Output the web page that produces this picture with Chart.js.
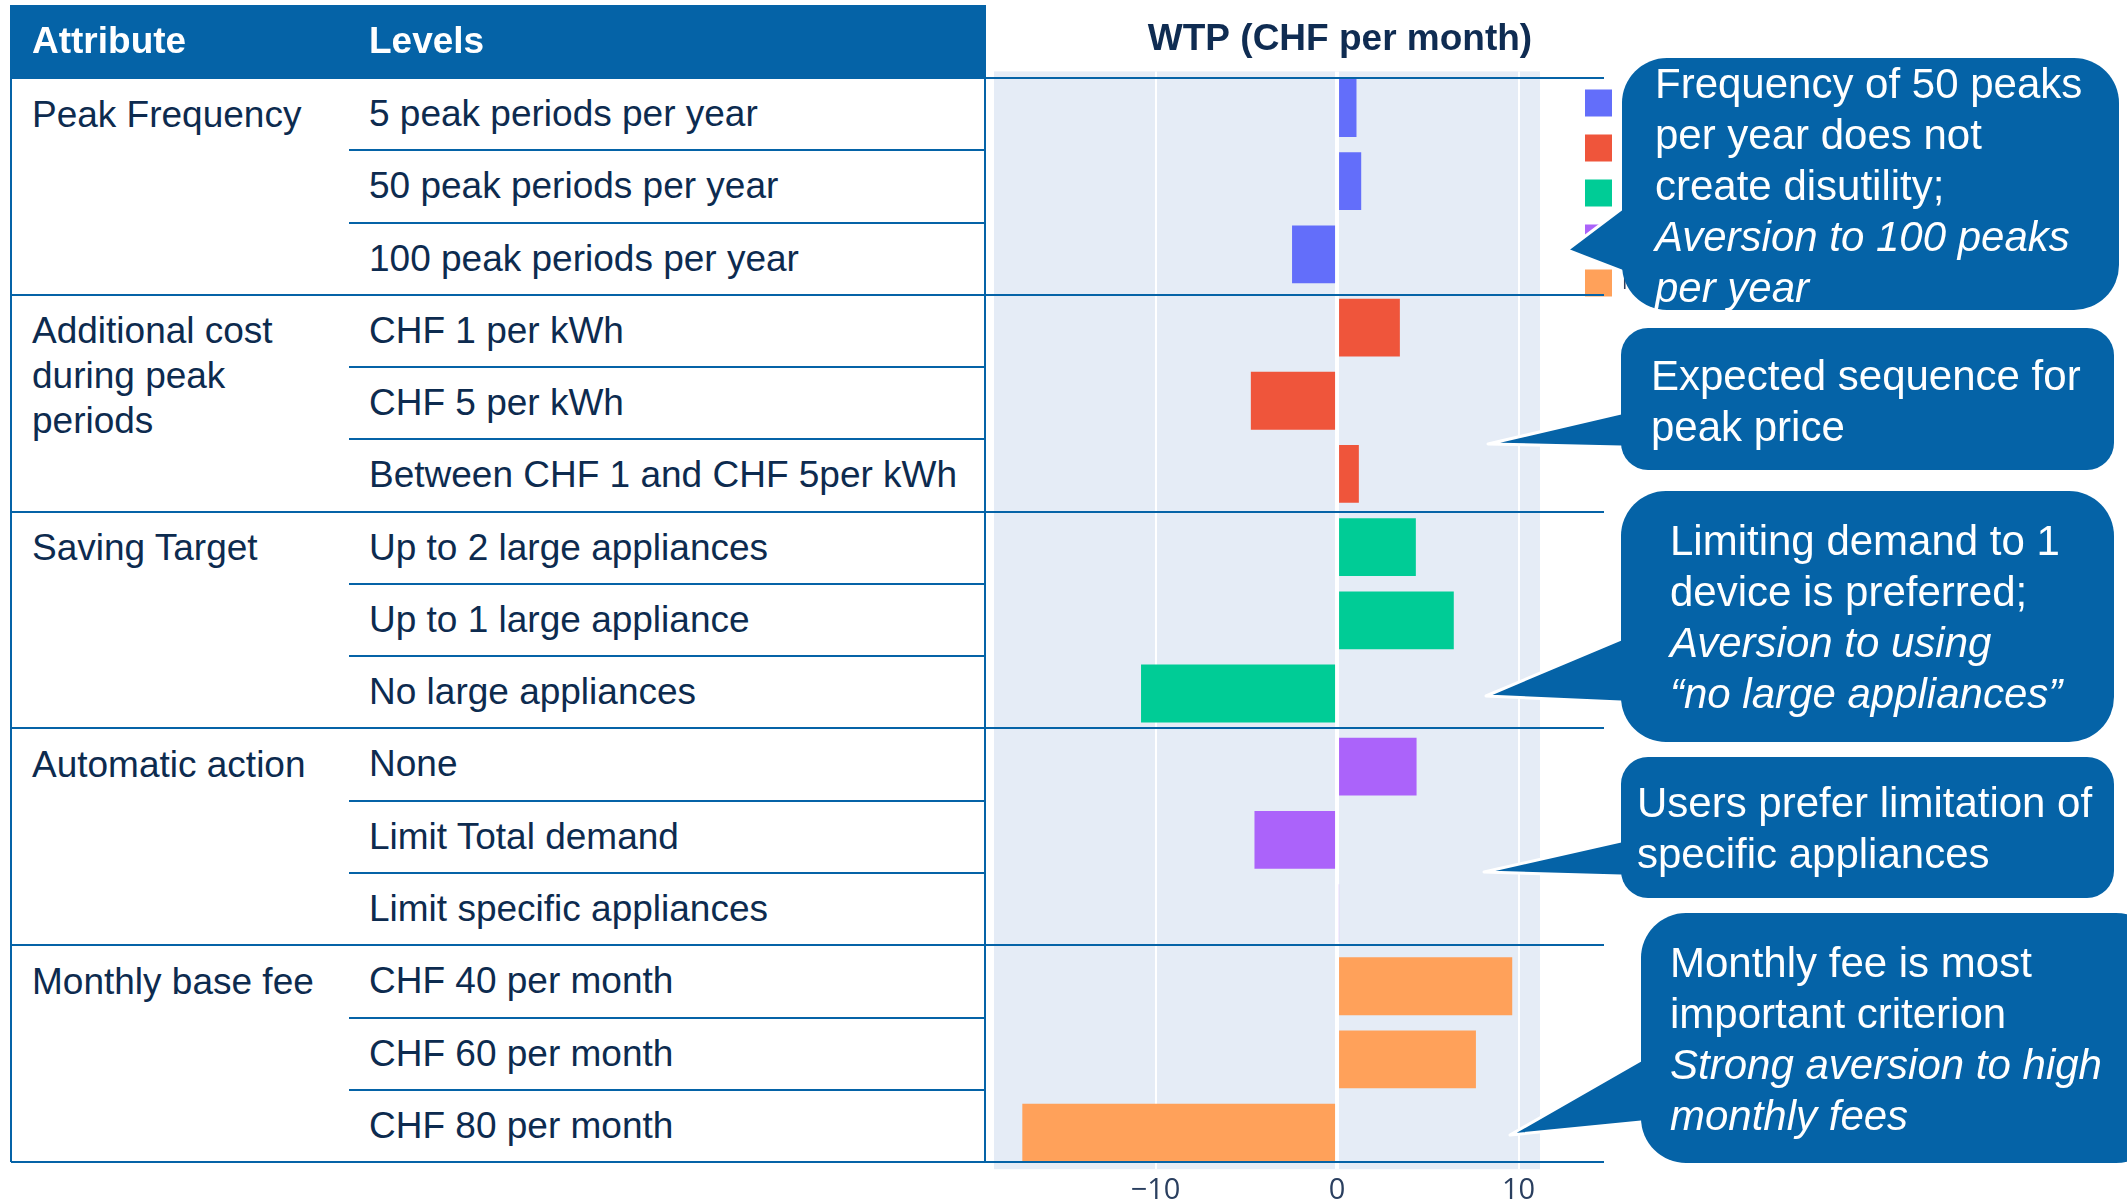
<!DOCTYPE html>
<html>
<head>
<meta charset="utf-8">
<script src="https://cdn.jsdelivr.net/npm/chart.js@4.4.0/dist/chart.umd.min.js"></script>
<style>
  html, body { margin: 0; padding: 0; background: #fff; overflow: hidden; width: 2127px; height: 1203px; }
  body { position: relative; font-family: "Liberation Sans", Arial, sans-serif; }
  #wtp-chart { position: absolute; left: 984px; top: 0; z-index: 1; }
  .cell { position: absolute; color: #0d2b4f; font-size: 37px; white-space: nowrap; z-index: 2; }
  .attr { white-space: normal; line-height: 45px; }
  .head { color: #fff; font-weight: bold; }
  .line { position: absolute; background: #0563a7; z-index: 2; }
  #header { position: absolute; background: #0563a7; z-index: 2; }
  #bubbles { position: absolute; left: 0; top: 0; z-index: 3; }
  .note { position: absolute; color: #fff; font-size: 42px; line-height: 51px; white-space: nowrap; z-index: 4; }
  .note i { font-style: italic; }
</style>
</head>
<body>
<div id="header"></div>
<canvas id="wtp-chart" width="702" height="1212"></canvas>

<svg id="bubbles" width="2127" height="1203">
  <g fill="#0563a7" stroke="#ffffff" stroke-width="3" stroke-linejoin="round">
    <polygon points="1567,250 1624,207 1650,207 1650,272 1624,272"/>
    <polygon points="1488,444 1621,413 1650,413 1650,447 1621,447"/>
    <polygon points="1486,696 1621,639 1650,639 1650,702 1621,702"/>
    <polygon points="1484,872 1621,841 1650,841 1650,876 1621,876"/>
    <polygon points="1510,1135 1641,1060 1670,1060 1670,1122 1641,1122"/>
  </g>
  <g fill="#0563a7">
    <rect x="1622" y="58" width="497" height="252" rx="45"/>
    <rect x="1621" y="328" width="493" height="142" rx="27"/>
    <rect x="1621" y="491" width="493" height="251" rx="45"/>
    <rect x="1621" y="757" width="493" height="141" rx="27"/>
    <rect x="1641" y="913" width="520" height="250" rx="45"/>
  </g>
</svg>

<div class="note" style="left:1655px; top:58px;">Frequency of 50 peaks<br>per year does not<br>create disutility;<br><i>Aversion to 100 peaks<br>per year</i></div>
<div class="note" style="left:1651px; top:350px;">Expected sequence for<br>peak price</div>
<div class="note" style="left:1670px; top:515px;">Limiting demand to 1<br>device is preferred;<br><i>Aversion to using<br>“no large appliances”</i></div>
<div class="note" style="left:1637px; top:777px;">Users prefer limitation of<br>specific appliances</div>
<div class="note" style="left:1670px; top:937px;">Monthly fee is most<br>important criterion<br><i>Strong aversion to high<br>monthly fees</i></div>

<script>
// Attributes and their levels (table rows, top to bottom)
const attributes = ['Peak Frequency', 'Additional cost during peak periods', 'Saving Target', 'Automatic action', 'Monthly base fee'];

const levelLabels = [
    ['5 peak periods per year', '50 peak periods per year', '100 peak periods per year'],
    ['CHF 1 per kWh', 'CHF 5 per kWh', 'Between CHF 1 and CHF 5per kWh'],
    ['Up to 2 large appliances', 'Up to 1 large appliance', 'No large appliances'],
    ['None', 'Limit Total demand', 'Limit specific appliances'],
    ['CHF 40 per month', 'CHF 60 per month', 'CHF 80 per month']
];

// WTP in CHF per month, one list per attribute
const peakFrequency = [1.07, 1.33, -2.48];
const additionalCost = [3.46, -4.75, 1.2];
const savingTarget = [4.34, 6.43, -10.8];
const automaticAction = [4.38, -4.55, 0.1];
const monthlyFee = [9.65, 7.65, -17.34];

const tickValues = [-10, 0, 10];

const seriesColors = ['#636efa', '#ef553b', '#00cc96', '#ab63fa', '#ffa15a'];

// ---- table on the left ----
const tableLeft = 11, tableRight = 985, headTop = 5, bodyTop = 78, rowH = 72.27, levelX = 349, lineEnd = 1604;

function addDiv(cls, css, text) {
    const d = document.createElement('div');
    d.className = cls;
    Object.assign(d.style, css);
    if (text !== undefined) d.textContent = text;
    document.body.appendChild(d);
    return d;
}

Object.assign(document.getElementById('header').style, {
    left: tableLeft + 'px', top: headTop + 'px', width: (tableRight - tableLeft) + 'px', height: (bodyTop - headTop) + 'px'
});
addDiv('cell head', { left: '32px', top: (headTop - 1) + 'px', lineHeight: (bodyTop - headTop) + 'px', fontWeight: 'bold' }, 'Attribute');
addDiv('cell head', { left: '369px', top: (headTop - 1) + 'px', lineHeight: (bodyTop - headTop) + 'px', fontWeight: 'bold' }, 'Levels');

let row = 0;
attributes.forEach((name, g) => {
    const groupTop = bodyTop + g * 3 * rowH;
    addDiv('cell attr', { left: '32px', top: (groupTop + 13.5) + 'px', width: '318px' }, name);
    levelLabels[g].forEach((lvl, j) => {
        const top = bodyTop + row * rowH;
        addDiv('cell', { left: '369px', top: top + 'px', lineHeight: rowH + 'px' }, lvl);
        if (j > 0) {
            addDiv('line', { left: levelX + 'px', top: (top - 1) + 'px', width: (tableRight - levelX) + 'px', height: '2px' });
        }
        row++;
    });
});
for (let g = 0; g <= attributes.length; g++) {
    const y = bodyTop + g * 3 * rowH;
    addDiv('line', { left: tableLeft + 'px', top: (y - 1) + 'px', width: (lineEnd - tableLeft) + 'px', height: '2px' });
}
const tableBottom = bodyTop + 15 * rowH;
addDiv('line', { left: (tableLeft - 1) + 'px', top: headTop + 'px', width: '2px', height: (tableBottom - headTop) + 'px' });
addDiv('line', { left: (tableRight - 1) + 'px', top: headTop + 'px', width: '2px', height: (tableBottom - headTop) + 'px' });

// ---- chart ----
const seriesValues = [peakFrequency, additionalCost, savingTarget, automaticAction, monthlyFee];

const plotBackground = {
    id: 'plotBackground',
    beforeDraw(chart) {
        const { ctx, chartArea: a } = chart;
        ctx.save();
        ctx.fillStyle = '#e5ecf6';
        ctx.fillRect(a.left, a.top, a.right - a.left, a.bottom - a.top);
        ctx.restore();
    }
};

const data = {
    labels: levelLabels.flat(),
    datasets: attributes.map((name, g) => ({
        label: name,
        data: seriesValues[g].map((v, j) => ({ x: v, y: levelLabels[g][j] })),
        backgroundColor: seriesColors[g],
        borderWidth: 0,
        grouped: false,
        categoryPercentage: 1,
        barPercentage: 0.79
    }))
};

var ctx = document.getElementById('wtp-chart').getContext('2d');
var wtpChart = new Chart(ctx, {
    type: 'bar',
    data,
    plugins: [plotBackground],
    options: {
        indexAxis: 'y',
        responsive: false,
        animation: false,
        layout: { padding: { left: 10 } },
        scales: {
            x: {
                type: 'linear',
                min: -18.9,
                max: 11.18,
                afterBuildTicks: (scale) => { scale.ticks = tickValues.map(v => ({ value: v })); },
                ticks: {
                    color: '#2a3f5f',
                    font: { family: 'Open Sans', size: 29 },
                    padding: 4,
                    callback: v => v < 0 ? '\u2212' + Math.abs(v) : String(v)
                },
                grid: {
                    color: '#ffffff',
                    lineWidth: c => (c.tick && c.tick.value === 0) ? 4 : 2,
                    drawTicks: false
                },
                border: { display: false }
            },
            y: {
                position: 'right',
                ticks: { display: false },
                grid: { display: false },
                border: { display: false },
                afterFit: (scale) => { scale.width = 27; }
            }
        },
        plugins: {
            title: {
                display: true,
                text: 'WTP (CHF per month)',
                color: '#0f2c52',
                font: { family: 'Liberation Sans', size: 37, weight: 'bold' },
                padding: { top: 18, bottom: 9 }
            },
            legend: {
                position: 'right',
                align: 'start',
                fullSize: false,
                maxWidth: 119,
                labels: {
                    boxWidth: 27,
                    boxHeight: 27,
                    padding: 18,
                    color: '#2a3f5f',
                    font: { family: 'Open Sans', size: 20 }
                }
            },
            tooltip: { enabled: false }
        }
    }
});
</script>
</body>
</html>
